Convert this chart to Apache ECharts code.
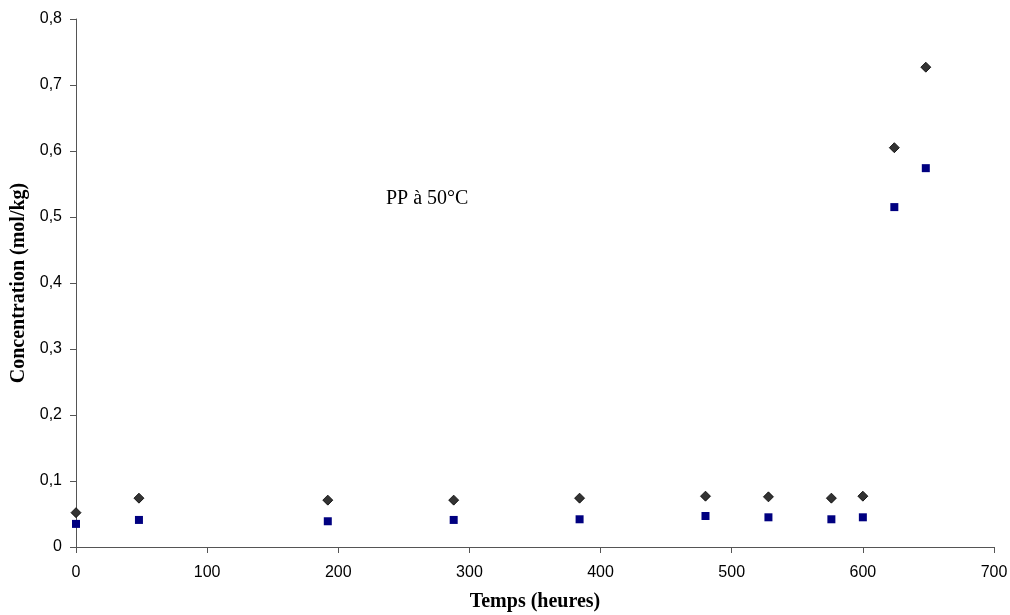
<!DOCTYPE html>
<html><head><meta charset="utf-8">
<script src="https://cdn.jsdelivr.net/npm/echarts@6/dist/echarts.min.js"></script>
<style>html,body{margin:0;padding:0;background:#fff}#c{width:1010px;height:615px}</style>
</head><body><div id="c"></div>
<script>
const hours = [0, 48, 192, 288, 384, 480, 528, 576, 600, 624, 648];
const seriesA = [0.052, 0.074, 0.071, 0.071, 0.074, 0.077, 0.076, 0.074, 0.077, 0.605, 0.727];
const seriesB = [0.035, 0.041, 0.039, 0.041, 0.042, 0.047, 0.045, 0.042, 0.045, 0.515, 0.574];
const chart = echarts.init(document.getElementById('c'));
const axisCommon = {
  axisLine: {show: true, lineStyle: {color: '#555555', width: 1}},
  axisTick: {show: true, inside: false, length: 6, lineStyle: {color: '#555555'}},
  splitLine: {show: false},
  axisLabel: {color: '#000', fontFamily: 'Liberation Sans', fontSize: 16}
};
chart.setOption({
  animation: false,
  backgroundColor: '#fff',
  grid: {left: 76, right: 16, top: 19, bottom: 68, containLabel: false, outerBoundsMode: 'none'},
  xAxis: Object.assign({}, axisCommon, {
    type: 'value', min: 0, max: 700, interval: 100,
    name: 'Temps (heures)', nameLocation: 'middle', nameGap: 45,
    nameTextStyle: {fontFamily: 'Liberation Serif', fontWeight: 'bold', fontSize: 20, color: '#000'},
    axisLabel: Object.assign({}, axisCommon.axisLabel, {margin: 18})
  }),
  yAxis: Object.assign({}, axisCommon, {
    type: 'value', min: 0, max: 0.8, interval: 0.1,
    name: 'Concentration (mol/kg)', nameLocation: 'middle', nameGap: 43,
    nameTextStyle: {fontFamily: 'Liberation Serif', fontWeight: 'bold', fontSize: 20, color: '#000'},
    axisLabel: Object.assign({}, axisCommon.axisLabel, {
      margin: 14,
      formatter: v => v === 0 ? '0' : v.toFixed(1).replace('.', ',')
    })
  }),
  series: [
    {type: 'scatter', data: hours.map((h, i) => [h, seriesA[i]]), symbol: 'diamond', symbolSize: 10,
     itemStyle: {color: '#333333', borderColor: '#000', borderWidth: 0.8, opacity: 1}},
    {type: 'scatter', data: hours.map((h, i) => [h, seriesB[i]]), symbol: 'rect', symbolSize: 8,
     itemStyle: {color: '#000080', opacity: 1}}
  ],
  graphic: [{type: 'text', left: 386, top: 189,
    style: {text: 'PP à 50°C', font: '20px "Liberation Serif"', fill: '#000'}}]
});
</script></body></html>
